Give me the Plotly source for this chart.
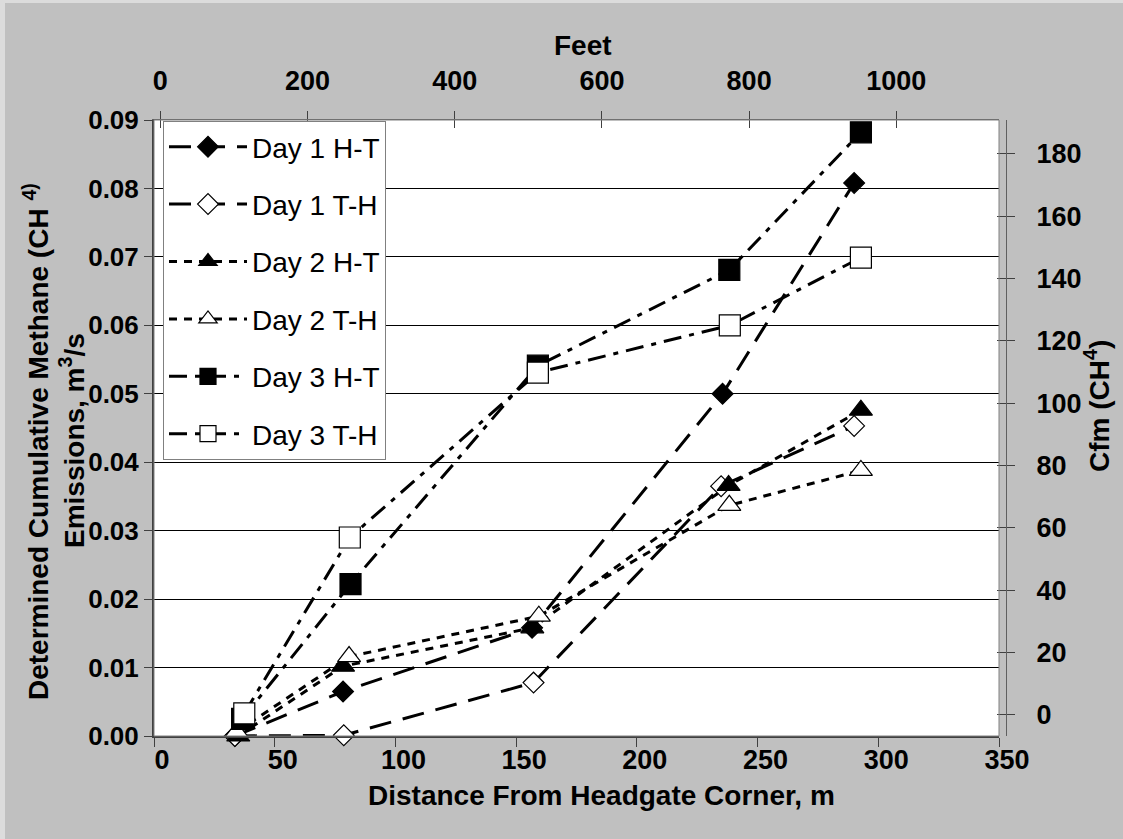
import plotly.graph_objects as go

# ---------------- data ----------------
series_names = ["Day 1 H-T", "Day 1 T-H", "Day 2 H-T", "Day 2 T-H", "Day 3 H-T", "Day 3 T-H"]

d1ht_x = [33.5, 78.3, 156.6, 235.5, 290.0]
d1ht_y = [0.0, 0.0065, 0.0158, 0.0500, 0.0808]
d1th_x = [33.5, 78.6, 157.2, 234.9, 290.0]
d1th_y = [0.0, 0.0001, 0.0078, 0.0365, 0.0453]
d2ht_x = [34.9, 78.3, 156.7, 238.0, 292.8]
d2ht_y = [0.0, 0.0102, 0.0158, 0.0366, 0.0476]
d2th_x = [34.2, 80.8, 159.4, 238.3, 292.8]
d2th_y = [0.0006, 0.0116, 0.0175, 0.0337, 0.0388]
d3ht_x = [36.5, 81.4, 159.0, 238.3, 292.8]
d3ht_y = [0.0025, 0.0222, 0.0541, 0.0681, 0.0882]
d3th_x = [37.4, 81.1, 159.0, 238.5, 292.8]
d3th_y = [0.0033, 0.0290, 0.0531, 0.0600, 0.0699]

x_ticks_m = [0, 50, 100, 150, 200, 250, 300, 350]
x_ticks_ft = [0, 200, 400, 600, 800, 1000]
y_ticks = [0.00, 0.01, 0.02, 0.03, 0.04, 0.05, 0.06, 0.07, 0.08, 0.09]
y_tick_text = ["0.00", "0.01", "0.02", "0.03", "0.04", "0.05", "0.06", "0.07", "0.08", "0.09"]
y2_ticks = [0, 20, 40, 60, 80, 100, 120, 140, 160, 180]

# ---------------- layout geometry ----------------
W, H = 1123, 839
L, R, T, B = 154, 117, 120, 103
PW = W - L - R
PH = H - T - B
XDOM = (999 - L) / PW

def px(xp):
    return (xp - L) / PW

def py(yp):
    return (H - B - yp) / PH

def bold(vals):
    return ["<b>%s</b>" % v for v in vals]

FONT = "Liberation Sans, Arial, sans-serif"
TICKF = dict(family=FONT, size=27, color="black")

fig = go.Figure()

styles = [
    (d1ht_x, d1ht_y, "diamond", "black", "22px,12px", 16),
    (d1th_x, d1th_y, "diamond", "white", "22px,12px", 16),
    (d2ht_x, d2ht_y, "triangle-up", "black", "8px,7px", 20),
    (d2th_x, d2th_y, "triangle-up", "white", "8px,7px", 20),
    (d3ht_x, d3ht_y, "square", "black", "18px,8px,5px,8px", 21),
    (d3th_x, d3th_y, "square", "white", "18px,8px,5px,8px", 21),
]

for name, (xs, ys, sym, fill, dash, size) in zip(series_names, styles):
    fig.add_trace(go.Scatter(
        x=xs, y=ys, name=name, mode="lines+markers",
        legendgroup=name,
        line=dict(color="black", width=3, dash=dash),
        marker=dict(symbol=sym, size=size, color=fill,
                    line=dict(color="black", width=1.2)),
        cliponaxis=False,
    ))

# dummy traces to establish secondary axes
fig.add_trace(go.Scatter(x=[None], y=[None], xaxis="x2", yaxis="y2",
                         showlegend=False, hoverinfo="skip"))
fig.add_trace(go.Scatter(x=[None], y=[None], xaxis="x3", yaxis="y3",
                         showlegend=False, hoverinfo="skip"))

fig.update_layout(
    width=W, height=H,
    margin=dict(l=L, r=R, t=T, b=B, pad=0),
    paper_bgcolor="#c0c0c0",
    plot_bgcolor="white",
    font=dict(family=FONT, color="black"),
    showlegend=True,
    legend=dict(
        x=px(163), y=py(121), xanchor="left", yanchor="top",
        bgcolor="white", bordercolor="#808080", borderwidth=1,
        font=dict(family=FONT, size=28, color="black"),
        tracegroupgap=18, itemwidth=78, traceorder="grouped",
    ),
    xaxis=dict(
        domain=[0, XDOM], range=[0, 350],
        tickvals=x_ticks_m, ticktext=bold(x_ticks_m),
        ticks="outside", ticklen=9, tickcolor="#404040", tickwidth=1,
        showline=True, linecolor="#404040", linewidth=2,
        showgrid=False, zeroline=False, tickfont=TICKF,
        ticklabelshift=8, ticklabelstandoff=-10,
        anchor="y",
    ),
    xaxis2=dict(
        domain=[0, XDOM], range=[-8.6, 1139.5],
        tickvals=x_ticks_ft, ticktext=bold(x_ticks_ft),
        overlaying="x", side="top", anchor="y",
        ticks="outside", ticklen=8, tickcolor="#404040", tickwidth=1,
        showline=True, linecolor="#606060", linewidth=1,
        showgrid=False, zeroline=False, tickfont=TICKF, ticklabelstandoff=10,
    ),
    xaxis3=dict(
        domain=[0, XDOM], range=[-8.6, 1139.5], tickvals=x_ticks_ft,
        overlaying="x", side="top", anchor="y",
        ticks="inside", ticklen=8, tickcolor="#404040", tickwidth=1,
        showticklabels=False, showline=False, showgrid=False, zeroline=False,
    ),
    yaxis=dict(
        range=[0, 0.09], tickvals=y_ticks, ticktext=bold(y_tick_text),
        ticks="outside", ticklen=8, tickcolor="#404040", tickwidth=1,
        showline=True, linecolor="#404040", linewidth=2,
        showgrid=True, gridcolor="black", gridwidth=1, zeroline=False,
        tickfont=dict(family=FONT, size=26, color="black"),
        anchor="x",
    ),
    yaxis2=dict(
        range=[-6.8, 190.9], tickvals=y2_ticks, ticktext=bold(y2_ticks),
        overlaying="y", side="right", anchor="free", position=1.0,
        ticks="outside", ticklen=8, tickcolor="#404040", tickwidth=1,
        showline=True, linecolor="#606060", linewidth=1,
        showgrid=False, zeroline=False, tickfont=TICKF, ticklabelstandoff=16,
    ),
    yaxis3=dict(
        range=[-6.8, 190.9], tickvals=y2_ticks,
        overlaying="y", side="right", anchor="free", position=1.0,
        ticks="inside", ticklen=9, tickcolor="#404040", tickwidth=1,
        showticklabels=False, showline=False, showgrid=False, zeroline=False,
    ),
)

# plot area border (top / right)
fig.add_shape(type="rect", xref="x domain", yref="y domain",
              x0=0, x1=1, y0=0, y1=1, line=dict(color="#808080", width=1),
              layer="above")

# light frame at top/left of the image
fig.add_shape(type="rect", xref="paper", yref="paper",
              x0=px(0), x1=px(W), y0=py(3), y1=py(0),
              line=dict(width=0), fillcolor="#dcdcdc", layer="below")
fig.add_shape(type="rect", xref="paper", yref="paper",
              x0=px(0), x1=px(5), y0=py(H), y1=py(0),
              line=dict(width=0), fillcolor="#dcdcdc", layer="below")

TITLE = dict(family=FONT, size=28, color="black", weight="bold")
ann = [
    dict(text="Feet", x=px(583), y=py(45)),
    dict(text="Distance From Headgate Corner, m", x=px(601), y=py(795)),
    dict(text="Cfm (CH<sup>4</sup>)", x=px(1097), y=py(406), textangle=-90),
    dict(text="Determined Cumulative Methane (CH <sup>4)</sup>", x=px(36), y=py(442), textangle=-90),
    dict(text="Emissions, m<sup>3</sup>/s", x=px(72), y=py(441), textangle=-90),
]
for a in ann:
    fig.add_annotation(xref="paper", yref="paper", showarrow=False,
                       xanchor="center", yanchor="middle", font=TITLE, **a)

fig.write_html("out.html")
